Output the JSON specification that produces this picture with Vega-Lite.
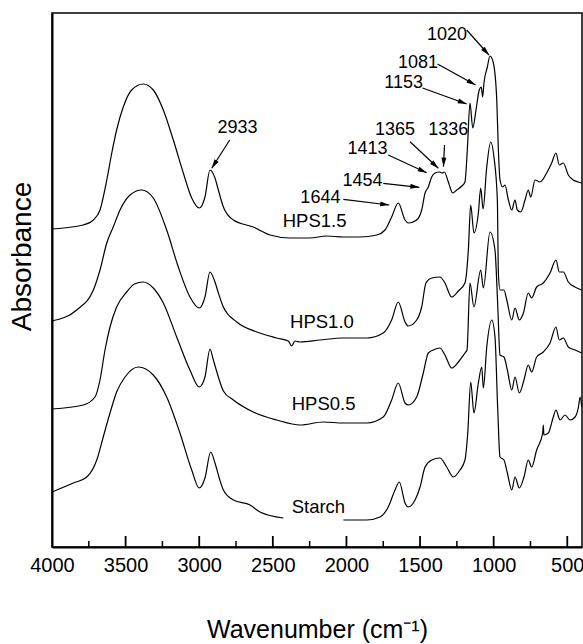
{
  "$schema": "https://vega.github.io/schema/vega-lite/v6.json",
  "autosize": {"type": "none"},
  "padding": {"left": 52, "top": 13, "right": 1, "bottom": 97},
  "width": 530,
  "height": 534,
  "config": {
    "font": "Liberation Sans",
    "view": {"stroke": "black", "strokeWidth": 1.5},
    "axis": {"grid": false, "domainColor": "black", "tickColor": "black", "labelColor": "black", "titleColor": "black", "titleFontWeight": "normal"}
  },
  "datasets": {
    "spectra": [
      {"s":"HPS1.5","wn":4000,"a":318},{"s":"HPS1.5","wn":3789,"a":322},{"s":"HPS1.5","wn":3719,"a":327},{"s":"HPS1.5","wn":3674,"a":337},{"s":"HPS1.5","wn":3628,"a":367},{"s":"HPS1.5","wn":3594,"a":394},{"s":"HPS1.5","wn":3561,"a":417},{"s":"HPS1.5","wn":3516,"a":440},{"s":"HPS1.5","wn":3459,"a":457},{"s":"HPS1.5","wn":3380,"a":463},{"s":"HPS1.5","wn":3312,"a":457},{"s":"HPS1.5","wn":3244,"a":437},{"s":"HPS1.5","wn":3176,"a":407},{"s":"HPS1.5","wn":3108,"a":374},{"s":"HPS1.5","wn":3051,"a":349},{"s":"HPS1.5","wn":3000,"a":339},{"s":"HPS1.5","wn":2961,"a":350},{"s":"HPS1.5","wn":2927,"a":377},{"s":"HPS1.5","wn":2893,"a":369},{"s":"HPS1.5","wn":2870,"a":357},{"s":"HPS1.5","wn":2836,"a":340},{"s":"HPS1.5","wn":2768,"a":327},{"s":"HPS1.5","wn":2633,"a":320},{"s":"HPS1.5","wn":2519,"a":312},{"s":"HPS1.5","wn":2383,"a":309},{"s":"HPS1.5","wn":2248,"a":309},{"s":"HPS1.5","wn":2134,"a":311},{"s":"HPS1.5","wn":2021,"a":310},{"s":"HPS1.5","wn":1908,"a":310},{"s":"HPS1.5","wn":1794,"a":312},{"s":"HPS1.5","wn":1738,"a":317},{"s":"HPS1.5","wn":1693,"a":330},{"s":"HPS1.5","wn":1648,"a":344},{"s":"HPS1.5","wn":1602,"a":327},{"s":"HPS1.5","wn":1580,"a":324},{"s":"HPS1.5","wn":1523,"a":327},{"s":"HPS1.5","wn":1489,"a":337},{"s":"HPS1.5","wn":1466,"a":354},{"s":"HPS1.5","wn":1444,"a":360},{"s":"HPS1.5","wn":1421,"a":370},{"s":"HPS1.5","wn":1398,"a":374},{"s":"HPS1.5","wn":1369,"a":375},{"s":"HPS1.5","wn":1349,"a":374},{"s":"HPS1.5","wn":1335,"a":375},{"s":"HPS1.5","wn":1308,"a":365},{"s":"HPS1.5","wn":1278,"a":354},{"s":"HPS1.5","wn":1251,"a":357},{"s":"HPS1.5","wn":1217,"a":361},{"s":"HPS1.5","wn":1195,"a":365},{"s":"HPS1.5","wn":1179,"a":397},{"s":"HPS1.5","wn":1161,"a":444},{"s":"HPS1.5","wn":1142,"a":419},{"s":"HPS1.5","wn":1120,"a":437},{"s":"HPS1.5","wn":1098,"a":457},{"s":"HPS1.5","wn":1084,"a":460},{"s":"HPS1.5","wn":1075,"a":450},{"s":"HPS1.5","wn":1066,"a":464},{"s":"HPS1.5","wn":1043,"a":480},{"s":"HPS1.5","wn":1025,"a":491},{"s":"HPS1.5","wn":1002,"a":484},{"s":"HPS1.5","wn":979,"a":447},{"s":"HPS1.5","wn":968,"a":397},{"s":"HPS1.5","wn":957,"a":367},{"s":"HPS1.5","wn":939,"a":360},{"s":"HPS1.5","wn":923,"a":362},{"s":"HPS1.5","wn":900,"a":347},{"s":"HPS1.5","wn":877,"a":337},{"s":"HPS1.5","wn":855,"a":347},{"s":"HPS1.5","wn":839,"a":337},{"s":"HPS1.5","wn":816,"a":335},{"s":"HPS1.5","wn":787,"a":347},{"s":"HPS1.5","wn":765,"a":357},{"s":"HPS1.5","wn":748,"a":350},{"s":"HPS1.5","wn":719,"a":367},{"s":"HPS1.5","wn":685,"a":365},{"s":"HPS1.5","wn":640,"a":374},{"s":"HPS1.5","wn":606,"a":384},{"s":"HPS1.5","wn":577,"a":394},{"s":"HPS1.5","wn":554,"a":382},{"s":"HPS1.5","wn":527,"a":384},{"s":"HPS1.5","wn":493,"a":372},{"s":"HPS1.5","wn":459,"a":367},{"s":"HPS1.5","wn":424,"a":365},{"s":"HPS1.5","wn":402,"a":364},

      {"s":"HPS1.0","wn":4000,"a":226},{"s":"HPS1.0","wn":3832,"a":237},{"s":"HPS1.0","wn":3719,"a":257},{"s":"HPS1.0","wn":3674,"a":277},{"s":"HPS1.0","wn":3628,"a":304},{"s":"HPS1.0","wn":3584,"a":320},{"s":"HPS1.0","wn":3538,"a":337},{"s":"HPS1.0","wn":3470,"a":352},{"s":"HPS1.0","wn":3391,"a":357},{"s":"HPS1.0","wn":3312,"a":349},{"s":"HPS1.0","wn":3221,"a":317},{"s":"HPS1.0","wn":3142,"a":280},{"s":"HPS1.0","wn":3063,"a":250},{"s":"HPS1.0","wn":3000,"a":239},{"s":"HPS1.0","wn":2961,"a":250},{"s":"HPS1.0","wn":2927,"a":275},{"s":"HPS1.0","wn":2893,"a":265},{"s":"HPS1.0","wn":2870,"a":254},{"s":"HPS1.0","wn":2836,"a":240},{"s":"HPS1.0","wn":2745,"a":225},{"s":"HPS1.0","wn":2609,"a":215},{"s":"HPS1.0","wn":2474,"a":209},{"s":"HPS1.0","wn":2395,"a":206},{"s":"HPS1.0","wn":2372,"a":201},{"s":"HPS1.0","wn":2350,"a":206},{"s":"HPS1.0","wn":2315,"a":205},{"s":"HPS1.0","wn":2180,"a":207},{"s":"HPS1.0","wn":2021,"a":209},{"s":"HPS1.0","wn":1862,"a":209},{"s":"HPS1.0","wn":1750,"a":214},{"s":"HPS1.0","wn":1693,"a":227},{"s":"HPS1.0","wn":1648,"a":245},{"s":"HPS1.0","wn":1602,"a":225},{"s":"HPS1.0","wn":1580,"a":221},{"s":"HPS1.0","wn":1523,"a":227},{"s":"HPS1.0","wn":1489,"a":240},{"s":"HPS1.0","wn":1460,"a":264},{"s":"HPS1.0","wn":1421,"a":269},{"s":"HPS1.0","wn":1365,"a":270},{"s":"HPS1.0","wn":1331,"a":264},{"s":"HPS1.0","wn":1285,"a":250},{"s":"HPS1.0","wn":1240,"a":256},{"s":"HPS1.0","wn":1195,"a":264},{"s":"HPS1.0","wn":1172,"a":297},{"s":"HPS1.0","wn":1156,"a":342},{"s":"HPS1.0","wn":1134,"a":314},{"s":"HPS1.0","wn":1104,"a":334},{"s":"HPS1.0","wn":1088,"a":359},{"s":"HPS1.0","wn":1072,"a":338},{"s":"HPS1.0","wn":1047,"a":380},{"s":"HPS1.0","wn":1020,"a":405},{"s":"HPS1.0","wn":998,"a":390},{"s":"HPS1.0","wn":975,"a":347},{"s":"HPS1.0","wn":968,"a":274},{"s":"HPS1.0","wn":957,"a":257},{"s":"HPS1.0","wn":930,"a":257},{"s":"HPS1.0","wn":911,"a":247},{"s":"HPS1.0","wn":877,"a":227},{"s":"HPS1.0","wn":855,"a":239},{"s":"HPS1.0","wn":826,"a":227},{"s":"HPS1.0","wn":798,"a":234},{"s":"HPS1.0","wn":765,"a":254},{"s":"HPS1.0","wn":742,"a":249},{"s":"HPS1.0","wn":708,"a":260},{"s":"HPS1.0","wn":663,"a":264},{"s":"HPS1.0","wn":617,"a":274},{"s":"HPS1.0","wn":577,"a":287},{"s":"HPS1.0","wn":554,"a":275},{"s":"HPS1.0","wn":527,"a":275},{"s":"HPS1.0","wn":493,"a":265},{"s":"HPS1.0","wn":447,"a":260},{"s":"HPS1.0","wn":402,"a":257},

      {"s":"HPS0.5","wn":4000,"a":138},{"s":"HPS0.5","wn":3787,"a":142},{"s":"HPS0.5","wn":3708,"a":150},{"s":"HPS0.5","wn":3674,"a":167},{"s":"HPS0.5","wn":3640,"a":197},{"s":"HPS0.5","wn":3606,"a":220},{"s":"HPS0.5","wn":3561,"a":240},{"s":"HPS0.5","wn":3493,"a":255},{"s":"HPS0.5","wn":3440,"a":263},{"s":"HPS0.5","wn":3380,"a":265},{"s":"HPS0.5","wn":3312,"a":259},{"s":"HPS0.5","wn":3244,"a":244},{"s":"HPS0.5","wn":3153,"a":210},{"s":"HPS0.5","wn":3063,"a":177},{"s":"HPS0.5","wn":3000,"a":160},{"s":"HPS0.5","wn":2961,"a":170},{"s":"HPS0.5","wn":2927,"a":198},{"s":"HPS0.5","wn":2904,"a":187},{"s":"HPS0.5","wn":2870,"a":170},{"s":"HPS0.5","wn":2836,"a":156},{"s":"HPS0.5","wn":2768,"a":147},{"s":"HPS0.5","wn":2633,"a":135},{"s":"HPS0.5","wn":2474,"a":127},{"s":"HPS0.5","wn":2315,"a":122},{"s":"HPS0.5","wn":2157,"a":125},{"s":"HPS0.5","wn":2021,"a":124},{"s":"HPS0.5","wn":1862,"a":124},{"s":"HPS0.5","wn":1750,"a":130},{"s":"HPS0.5","wn":1693,"a":147},{"s":"HPS0.5","wn":1648,"a":164},{"s":"HPS0.5","wn":1602,"a":144},{"s":"HPS0.5","wn":1580,"a":142},{"s":"HPS0.5","wn":1523,"a":150},{"s":"HPS0.5","wn":1478,"a":174},{"s":"HPS0.5","wn":1444,"a":194},{"s":"HPS0.5","wn":1410,"a":197},{"s":"HPS0.5","wn":1365,"a":199},{"s":"HPS0.5","wn":1331,"a":192},{"s":"HPS0.5","wn":1285,"a":179},{"s":"HPS0.5","wn":1240,"a":185},{"s":"HPS0.5","wn":1195,"a":194},{"s":"HPS0.5","wn":1181,"a":197},{"s":"HPS0.5","wn":1161,"a":264},{"s":"HPS0.5","wn":1134,"a":240},{"s":"HPS0.5","wn":1088,"a":277},{"s":"HPS0.5","wn":1070,"a":259},{"s":"HPS0.5","wn":1025,"a":315},{"s":"HPS0.5","wn":991,"a":297},{"s":"HPS0.5","wn":973,"a":244},{"s":"HPS0.5","wn":957,"a":192},{"s":"HPS0.5","wn":930,"a":190},{"s":"HPS0.5","wn":907,"a":177},{"s":"HPS0.5","wn":877,"a":157},{"s":"HPS0.5","wn":855,"a":170},{"s":"HPS0.5","wn":826,"a":154},{"s":"HPS0.5","wn":794,"a":167},{"s":"HPS0.5","wn":765,"a":182},{"s":"HPS0.5","wn":742,"a":175},{"s":"HPS0.5","wn":708,"a":190},{"s":"HPS0.5","wn":663,"a":195},{"s":"HPS0.5","wn":617,"a":204},{"s":"HPS0.5","wn":577,"a":220},{"s":"HPS0.5","wn":554,"a":207},{"s":"HPS0.5","wn":527,"a":209},{"s":"HPS0.5","wn":493,"a":200},{"s":"HPS0.5","wn":447,"a":197},{"s":"HPS0.5","wn":402,"a":194},

      {"s":"Starch","p":1,"wn":4000,"a":55},{"s":"Starch","p":1,"wn":3855,"a":64},{"s":"Starch","p":1,"wn":3764,"a":70},{"s":"Starch","p":1,"wn":3696,"a":87},{"s":"Starch","p":1,"wn":3652,"a":110},{"s":"Starch","p":1,"wn":3606,"a":134},{"s":"Starch","p":1,"wn":3561,"a":155},{"s":"Starch","p":1,"wn":3504,"a":170},{"s":"Starch","p":1,"wn":3414,"a":180},{"s":"Starch","p":1,"wn":3312,"a":172},{"s":"Starch","p":1,"wn":3221,"a":150},{"s":"Starch","p":1,"wn":3131,"a":114},{"s":"Starch","p":1,"wn":3051,"a":77},{"s":"Starch","p":1,"wn":3000,"a":59},{"s":"Starch","p":1,"wn":2961,"a":69},{"s":"Starch","p":1,"wn":2922,"a":95},{"s":"Starch","p":1,"wn":2893,"a":84},{"s":"Starch","p":1,"wn":2864,"a":69},{"s":"Starch","p":1,"wn":2836,"a":57},{"s":"Starch","p":1,"wn":2768,"a":47},{"s":"Starch","p":1,"wn":2655,"a":42},{"s":"Starch","p":1,"wn":2587,"a":35},{"s":"Starch","p":1,"wn":2429,"a":29},
      {"s":"Starch","p":2,"wn":2021,"a":27},{"s":"Starch","p":2,"wn":1862,"a":27},{"s":"Starch","p":2,"wn":1772,"a":30},{"s":"Starch","p":2,"wn":1716,"a":40},{"s":"Starch","p":2,"wn":1670,"a":57},{"s":"Starch","p":2,"wn":1641,"a":65},{"s":"Starch","p":2,"wn":1602,"a":44},{"s":"Starch","p":2,"wn":1580,"a":40},{"s":"Starch","p":2,"wn":1534,"a":47},{"s":"Starch","p":2,"wn":1500,"a":60},{"s":"Starch","p":2,"wn":1466,"a":80},{"s":"Starch","p":2,"wn":1421,"a":87},{"s":"Starch","p":2,"wn":1365,"a":89},{"s":"Starch","p":2,"wn":1319,"a":80},{"s":"Starch","p":2,"wn":1274,"a":70},{"s":"Starch","p":2,"wn":1229,"a":77},{"s":"Starch","p":2,"wn":1195,"a":87},{"s":"Starch","p":2,"wn":1176,"a":114},{"s":"Starch","p":2,"wn":1156,"a":165},{"s":"Starch","p":2,"wn":1134,"a":134},{"s":"Starch","p":2,"wn":1104,"a":164},{"s":"Starch","p":2,"wn":1081,"a":180},{"s":"Starch","p":2,"wn":1070,"a":159},{"s":"Starch","p":2,"wn":1047,"a":200},{"s":"Starch","p":2,"wn":1013,"a":227},{"s":"Starch","p":2,"wn":991,"a":210},{"s":"Starch","p":2,"wn":973,"a":140},{"s":"Starch","p":2,"wn":957,"a":90},{"s":"Starch","p":2,"wn":930,"a":87},{"s":"Starch","p":2,"wn":907,"a":74},{"s":"Starch","p":2,"wn":877,"a":57},{"s":"Starch","p":2,"wn":855,"a":70},{"s":"Starch","p":2,"wn":826,"a":59},{"s":"Starch","p":2,"wn":794,"a":70},{"s":"Starch","p":2,"wn":765,"a":87},{"s":"Starch","p":2,"wn":742,"a":80},{"s":"Starch","p":2,"wn":708,"a":97},{"s":"Starch","p":2,"wn":667,"a":114},{"s":"Starch","p":2,"wn":663,"a":122},{"s":"Starch","p":2,"wn":659,"a":112},{"s":"Starch","p":2,"wn":629,"a":114},{"s":"Starch","p":2,"wn":595,"a":130},{"s":"Starch","p":2,"wn":577,"a":137},{"s":"Starch","p":2,"wn":549,"a":127},{"s":"Starch","p":2,"wn":515,"a":132},{"s":"Starch","p":2,"wn":481,"a":127},{"s":"Starch","p":2,"wn":447,"a":130},{"s":"Starch","p":2,"wn":424,"a":140},{"s":"Starch","p":2,"wn":413,"a":150},{"s":"Starch","p":2,"wn":402,"a":140}
    ],
    "names": [
      {"t":"HPS1.5","x":2433,"y":319.7},
      {"t":"HPS1.0","x":2383,"y":218.7},
      {"t":"HPS0.5","x":2372,"y":137},
      {"t":"Starch","x":2372,"y":33.7}
    ],
    "peaks": [
      {"t":"2933","lx":2740,"ly":413.7,"tx":2793,"ty":407,"hx":2915,"hy":378.7},
      {"t":"1020","lx":1317,"ly":507,"tx":1183,"ty":517,"hx":1032,"hy":492},
      {"t":"1081","lx":1514,"ly":478.7,"tx":1381,"ty":483,"hx":1123,"hy":462},
      {"t":"1153","lx":1611,"ly":458.7,"tx":1483,"ty":459,"hx":1183,"hy":443},
      {"t":"1365","lx":1670,"ly":412,"tx":1568,"ty":405.3,"hx":1376,"hy":378.7},
      {"t":"1336","lx":1308,"ly":412,"tx":1334,"ty":402,"hx":1341,"hy":380.3},
      {"t":"1413","lx":1857,"ly":393,"tx":1716,"ty":392,"hx":1455,"hy":374.3},
      {"t":"1454","lx":1891,"ly":361,"tx":1750,"ty":363.7,"hx":1505,"hy":359.7},
      {"t":"1644","lx":2177,"ly":344.3,"tx":2021,"ty":347.7,"hx":1709,"hy":342}
    ],
    "ticks": [
      {"wn":3750,"k":"minor"},{"wn":3500,"k":"major"},{"wn":3250,"k":"minor"},{"wn":3000,"k":"major"},
      {"wn":2750,"k":"minor"},{"wn":2500,"k":"major"},{"wn":2250,"k":"minor"},{"wn":2000,"k":"major"},
      {"wn":1750,"k":"minor"},{"wn":1500,"k":"major"},{"wn":1250,"k":"minor"},{"wn":1000,"k":"major"},
      {"wn":750,"k":"minor"},{"wn":500,"k":"major"}
    ]
  },
  "layer": [
    {
      "data": {"name": "spectra"},
      "mark": {"type": "line", "color": "black", "strokeWidth": 1.2, "interpolate": "monotone"},
      "encoding": {
        "x": {"field": "wn", "type": "quantitative",
          "scale": {"domain": [400, 4000], "reverse": true, "nice": false, "zero": false},
          "axis": {"title": "Wavenumber (cm⁻¹)", "titleFontSize": 25, "titleY": 90, "titleBaseline": "alphabetic",
            "values": [4000, 3500, 3000, 2500, 2000, 1500, 1000, 500],
            "format": "d",
            "labelFontSize": 20, "labelFlush": false, "labelPadding": 8,
            "ticks": false, "domainWidth": 2}},
        "y": {"field": "a", "type": "quantitative",
          "scale": {"domain": [0, 534], "nice": false, "zero": false},
          "axis": {"title": "Absorbance", "titleFontSize": 28, "labels": false, "ticks": false, "domainWidth": 2,
            "titleX": -22, "titleY": 243, "titleAlign": "center", "titleBaseline": "alphabetic", "titleAngle": 270}},
        "detail": [{"field": "s"}, {"field": "p"}]
      }
    },
    {
      "data": {"name": "ticks"},
      "transform": [{"filter": "datum.k === 'major'"}],
      "mark": {"type": "rule", "color": "black", "strokeWidth": 1.8},
      "encoding": {
        "x": {"field": "wn", "type": "quantitative"},
        "y": {"datum": 0},
        "y2": {"datum": 11}
      }
    },
    {
      "data": {"name": "ticks"},
      "transform": [{"filter": "datum.k === 'minor'"}],
      "mark": {"type": "rule", "color": "black", "strokeWidth": 1.5},
      "encoding": {
        "x": {"field": "wn", "type": "quantitative"},
        "y": {"datum": 0},
        "y2": {"datum": 6}
      }
    },
    {
      "data": {"name": "names"},
      "mark": {"type": "text", "align": "left", "baseline": "alphabetic", "fontSize": 18.5, "color": "black"},
      "encoding": {
        "x": {"field": "x", "type": "quantitative"},
        "y": {"field": "y", "type": "quantitative"},
        "text": {"field": "t"}
      }
    },
    {
      "data": {"name": "peaks"},
      "mark": {"type": "rule", "color": "black", "strokeWidth": 1.2},
      "encoding": {
        "x": {"field": "tx", "type": "quantitative"},
        "y": {"field": "ty", "type": "quantitative"},
        "x2": {"field": "hx"},
        "y2": {"field": "hy"}
      }
    },
    {
      "data": {"name": "peaks"},
      "transform": [{"calculate": "atan2(-(datum.hy - datum.ty), -(datum.hx - datum.tx) * 530 / 3600) * 180 / PI", "as": "ang"}],
      "mark": {"type": "point", "shape": "M0,0L-2,-0.55L-2,0.55Z", "filled": true, "color": "black", "opacity": 1, "size": 81},
      "encoding": {
        "x": {"field": "hx", "type": "quantitative"},
        "y": {"field": "hy", "type": "quantitative"},
        "angle": {"field": "ang", "type": "quantitative", "scale": null}
      }
    },
    {
      "data": {"name": "peaks"},
      "mark": {"type": "text", "align": "center", "baseline": "alphabetic", "fontSize": 18, "color": "black"},
      "encoding": {
        "x": {"field": "lx", "type": "quantitative"},
        "y": {"field": "ly", "type": "quantitative"},
        "text": {"field": "t"}
      }
    }
  ]
}
